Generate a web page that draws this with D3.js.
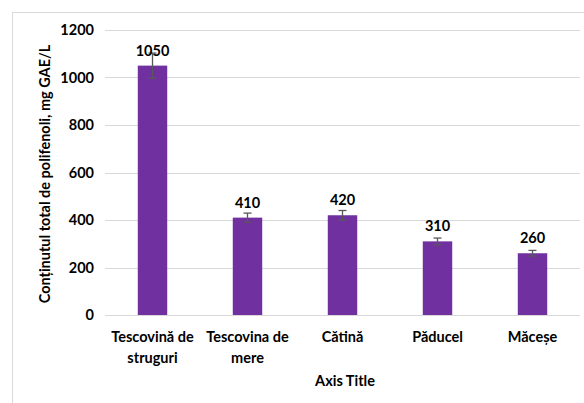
<!DOCTYPE html>
<html><head><meta charset="utf-8">
<script src="https://cdn.jsdelivr.net/npm/d3@7"></script>
<style>body{margin:0;background:#fff}svg{display:block}text{font-family:Lato,"Open Sans",sans-serif;font-weight:bold;fill:#000}</style>
</head><body><svg id="c" width="584" height="403"></svg>
<script>
const categories = [["Tescovină de","struguri"],["Tescovina de","mere"],["Cătină"],["Păducel"],["Măceșe"]];
const values = [1050, 410, 420, 310, 260];
const errors = [53, 19, 20, 14, 12];
const yTicks = [0, 200, 400, 600, 800, 1000, 1200];

const FS = 14.5;
const svg = d3.select("#c");
svg.append("rect").attr("x",12.5).attr("y",12.5).attr("width",600).attr("height",420)
  .attr("fill","#fff").attr("stroke","#d9d9d9");

const m = {l:105, r:580, t:30, b:315};
const x = d3.scaleBand().domain(d3.range(categories.length)).range([m.l, m.r]).paddingInner(0.69).paddingOuter(0.345);
const y = d3.scaleLinear().domain([0,1200]).range([m.b, m.t]);

// gridlines
svg.append("g").selectAll("line").data(yTicks).join("line")
  .attr("x1", m.l).attr("x2", m.r).attr("y1", d=>Math.round(y(d))+0.5).attr("y2", d=>Math.round(y(d))+0.5)
  .attr("stroke","#d9d9d9").attr("stroke-width",1);

// y axis labels
const ya = svg.append("g").attr("transform",`translate(${m.l-11},0)`)
  .call(d3.axisLeft(y).tickValues(yTicks).tickFormat(d3.format("d")).tickSize(0).tickPadding(0));
ya.select(".domain").remove();
ya.selectAll("text").attr("font-size",FS).style("font-family","Lato, sans-serif").style("font-weight","bold").attr("fill","#000");

// bars
svg.append("g").selectAll("rect").data(values).join("rect")
  .attr("x",(d,i)=>x(i)).attr("width",x.bandwidth())
  .attr("y",d=>y(d)).attr("height",d=>y(0)-y(d)).attr("fill","#7030A0");

// error bars
const eg = svg.append("g").attr("stroke","#595959").attr("stroke-width",1.3);
values.forEach((v,i)=>{
  const cx = x(i)+x.bandwidth()/2;
  eg.append("line").attr("x1",cx).attr("x2",cx).attr("y1",y(v+errors[i])).attr("y2",y(v-errors[i]));
  [v+errors[i], v-errors[i]].forEach(e=>{
    eg.append("line").attr("x1",cx-4).attr("x2",cx+4).attr("y1",y(e)).attr("y2",y(e));
  });
});

// value labels
svg.append("g").selectAll("text").data(values).join("text")
  .attr("x",(d,i)=>x(i)+x.bandwidth()/2).attr("y",d=>y(d)-10)
  .attr("text-anchor","middle").attr("font-size",FS).text(d=>d);

// category labels
const cg = svg.append("g");
categories.forEach((lines,i)=>{
  const t = cg.append("text").attr("x",x(i)+x.bandwidth()/2).attr("y",342)
    .attr("text-anchor","middle").attr("font-size",FS);
  lines.forEach((l,j)=>t.append("tspan").attr("x",x(i)+x.bandwidth()/2).attr("dy",j?21:0).text(l));
});

// axis titles
svg.append("text").attr("x",345).attr("y",386).attr("text-anchor","middle").attr("font-size",FS).text("Axis Title");
svg.append("text").attr("transform","translate(50,174) rotate(-90)").attr("text-anchor","middle")
  .attr("font-size",FS).text("Conținutul total de polifenoli, mg GAE/L");
</script></body></html>
